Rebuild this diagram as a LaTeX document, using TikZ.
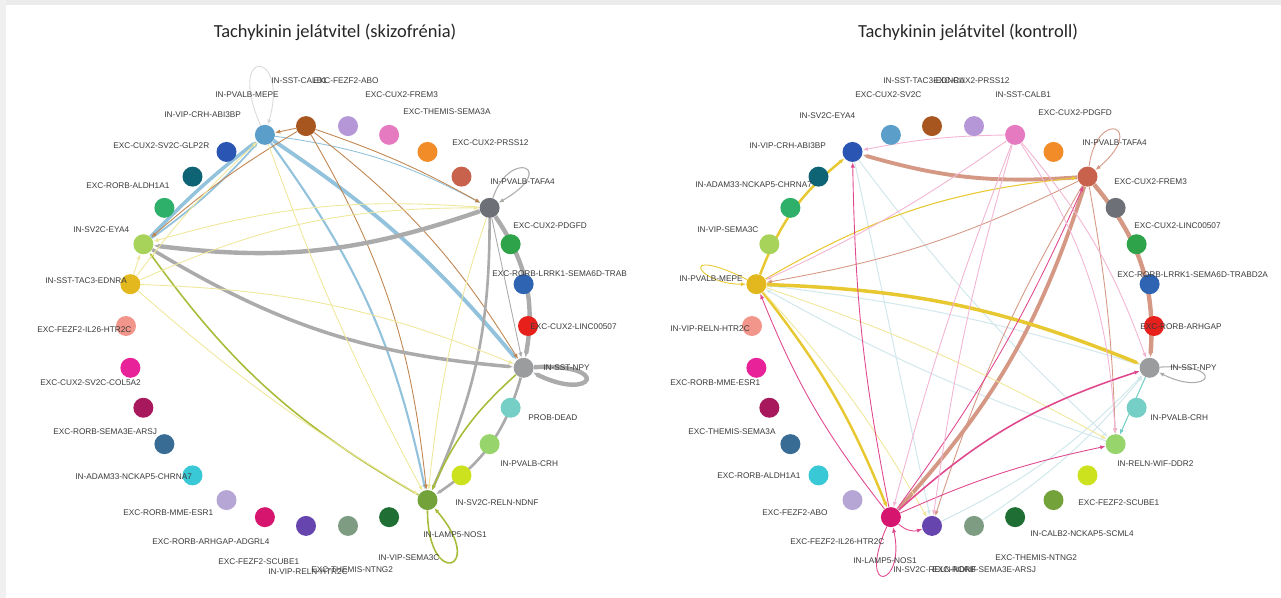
\documentclass[tikz,border=0pt]{standalone}
\usepackage{fontspec}
\usepackage{tikz}
\usetikzlibrary{shapes,arrows.meta,calc,backgrounds}
\newfontfamily\labfont{Liberation Sans}
\newfontfamily\titlefont{Carlito}
% node colours, same order in both graphs
\definecolor{c0}{HTML}{5B9EC9}\definecolor{c1}{HTML}{A8561F}\definecolor{c2}{HTML}{B596D6}
\definecolor{c3}{HTML}{E67AC0}\definecolor{c4}{HTML}{F28C28}\definecolor{c5}{HTML}{C8624C}
\definecolor{c6}{HTML}{6E7078}\definecolor{c7}{HTML}{2EA34A}\definecolor{c8}{HTML}{2F64B2}
\definecolor{c9}{HTML}{E8201C}\definecolor{c10}{HTML}{9A9C9E}\definecolor{c11}{HTML}{76CFC6}
\definecolor{c12}{HTML}{98D46C}\definecolor{c13}{HTML}{CCE21E}\definecolor{c14}{HTML}{74A23A}
\definecolor{c15}{HTML}{1F6E33}\definecolor{c16}{HTML}{7D9C82}\definecolor{c17}{HTML}{6646AE}
\definecolor{c18}{HTML}{D5156E}\definecolor{c19}{HTML}{B6A6D6}\definecolor{c20}{HTML}{38C8D6}
\definecolor{c21}{HTML}{386C94}\definecolor{c22}{HTML}{A8185C}\definecolor{c23}{HTML}{E8239A}
\definecolor{c24}{HTML}{F2968C}\definecolor{c25}{HTML}{E2B81E}\definecolor{c26}{HTML}{A8D35A}
\definecolor{c27}{HTML}{2FB06A}\definecolor{c28}{HTML}{0E6374}\definecolor{c29}{HTML}{2B55B2}
% edge colours
\definecolor{lbE}{HTML}{92C2DC}\definecolor{brE}{HTML}{C0844F}\definecolor{grE}{HTML}{ABABAB}
\definecolor{olE}{HTML}{A9BC3A}\definecolor{yeE}{HTML}{EFE79A}\definecolor{goE}{HTML}{E8C830}
\definecolor{ruE}{HTML}{D49884}\definecolor{maE}{HTML}{E0488E}\definecolor{piE}{HTML}{F2B4D2}
\definecolor{faE}{HTML}{D3E8EC}\definecolor{labgray}{HTML}{3A3A3A}
\tikzstyle{dot} = [circle, inner sep=0pt, minimum size=0.4cm]
\tikzstyle{lab} = [anchor=west, inner sep=0pt, text=labgray, font=\labfont\fontsize{4.7}{5.5}\selectfont]
\tikzstyle{title} = [text=black!85, font=\titlefont\fontsize{10.5}{12}\selectfont]
\tikzstyle{line} = [draw, -{Latex[length=3pt,width=2.4pt]}]
\tikzstyle{blueedge} = [line, draw=lbE]
\tikzstyle{brownedge} = [line, draw=brE, line width=0.5pt]
\tikzstyle{grayedge} = [line, draw=grE]
\tikzstyle{oliveedge} = [line, draw=olE]
\tikzstyle{yellowedge} = [line, draw=yeE, line width=0.5pt]
\tikzstyle{goldedge} = [line, draw=goE]
\tikzstyle{rustedge} = [line, draw=ruE]
\tikzstyle{magedge} = [line, draw=maE, line width=0.5pt]
\tikzstyle{pinkedge} = [line, draw=piE, line width=0.5pt]
\tikzstyle{faintedge} = [line, draw=faE, line width=0.6pt]

\begin{document}
\begin{tikzpicture}[x=0.02cm, y=-0.02cm]
    \useasboundingbox (0,0) rectangle (1281,598);
    \fill[black!8] (0,0) rectangle (1281,5);
    \fill[black!6] (0,0) rectangle (6,598);
    \node[title] (tleft) at (335,32) {Tachykinin jelátvitel (skizofrénia)};
    \node[title] (tright) at (968,32) {Tachykinin jelátvitel (kontroll)};
    % both circles
    \foreach \k in {0,...,29} {
        \node[dot, fill=c\k] (L\k) at ({327+201*cos(108-12*\k)},{326-201*sin(108-12*\k)}) {};
        \node[dot, fill=c\k] (R\k) at ({953+201*cos(108-12*\k)},{326-201*sin(108-12*\k)}) {};
    }
    % labels, left graph
    \foreach \x/\y/\t [count=\i] in {271/81/IN-SST-CALB1, 313/81/EXC-FEZF2-ABO, 215/95/IN-PVALB-MEPE,
        365/95/EXC-CUX2-FREM3, 164/115/IN-VIP-CRH-ABI3BP, 403/112/EXC-THEMIS-SEMA3A,
        113/146/EXC-CUX2-SV2C-GLP2R, 452/143/EXC-CUX2-PRSS12, 86/186/EXC-RORB-ALDH1A1,
        490/182/IN-PVALB-TAFA4, 73/230/IN-SV2C-EYA4, 513/226/EXC-CUX2-PDGFD,
        45/281/IN-SST-TAC3-EDNRA, 492/274/EXC-RORB-LRRK1-SEMA6D-TRAB, 37/330/EXC-FEZF2-IL26-HTR2C,
        530/327/EXC-CUX2-LINC00507, 40/383/EXC-CUX2-SV2C-COL5A2, 543/368/IN-SST-NPY,
        53/432/EXC-RORB-SEMA3E-ARSJ, 528/418/PROB-DEAD, 75/477/IN-ADAM33-NCKAP5-CHRNA7,
        500/464/IN-PVALB-CRH, 123/513/EXC-RORB-MME-ESR1, 455/503/IN-SV2C-RELN-NDNF,
        152/542/EXC-RORB-ARHGAP-ADGRL4, 423/535/IN-LAMP5-NOS1, 218/562/EXC-FEZF2-SCUBE1,
        378/558/IN-VIP-SEMA3C, 268/572/IN-VIP-RELN-HTR2C, 311/570/EXC-THEMIS-NTNG2}
        \node[lab] (la\i) at (\x,\y) {\t};
    % labels, right graph
    \foreach \x/\y/\t [count=\i] in {883/81/IN-SST-TAC3-EDNRA, 933/81/EXC-CUX2-PRSS12, 855/95/EXC-CUX2-SV2C,
        995/95/IN-SST-CALB1, 799/116/IN-SV2C-EYA4, 1038/113/EXC-CUX2-PDGFD,
        749/146/IN-VIP-CRH-ABI3BP, 1082/143/IN-PVALB-TAFA4, 695/185/IN-ADAM33-NCKAP5-CHRNA7,
        1114/182/EXC-CUX2-FREM3, 697/230/IN-VIP-SEMA3C, 1134/226/EXC-CUX2-LINC00507,
        679/279/IN-PVALB-MEPE, 1117/275/EXC-RORB-LRRK1-SEMA6D-TRABD2A, 670/329/IN-VIP-RELN-HTR2C,
        1140/327/EXC-RORB-ARHGAP, 670/383/EXC-RORB-MME-ESR1, 1170/368/IN-SST-NPY,
        688/432/EXC-THEMIS-SEMA3A, 1150/418/IN-PVALB-CRH, 717/476/EXC-RORB-ALDH1A1,
        1117/464/IN-RELN-WIF-DDR2, 762/513/EXC-FEZF2-ABO, 1078/503/EXC-FEZF2-SCUBE1,
        790/542/EXC-FEZF2-IL26-HTR2C, 1030/534/IN-CALB2-NCKAP5-SCML4, 853/561/IN-LAMP5-NOS1,
        995/558/EXC-THEMIS-NTNG2, 893/570/IN-SV2C-RELN-NDNF, 932/570/EXC-RORB-SEMA3E-ARSJ}
        \node[lab] (ra\i) at (\x,\y) {\t};

    \begin{scope}[on background layer]
        % skizofrenia
        \path[blueedge, draw=black!15, line width=0.5pt] (L0) .. controls +(-40,-90) and +(25,-85) .. (L0);
        \path[blueedge, line width=2.2pt] (L0) to[bend left=8] (L10);
        \path[blueedge, line width=1.2pt] (L0) to[bend left=12] (L14);
        \path[blueedge, line width=2pt] (L26) to[bend left=4] (L0);
        \path[blueedge, line width=1pt] (L26) to[bend right=6] (L0);
        \path[blueedge, line width=0.5pt] (L0) to[bend left=10] (L6);
        \path[brownedge] (L1) to[bend right=5] (L26);
        \path[brownedge] (L1) to[bend left=10] (L10);
        \path[brownedge] (L1) to[bend left=12] (L14);
        \path[brownedge] (L1) to[bend left=5] (L6);
        \path[brownedge] (L1) to (L0);
        \path[grayedge, line width=2.5pt] (L6) to[bend left=13] (L26);
        \path[grayedge, line width=2.5pt] (L6) to[bend left=22] (L10);
        \path[grayedge, line width=1.5pt] (L6) to[bend left=12] (L14);
        \path[grayedge, line width=1.5pt] (L10) to[bend left=20] (L14);
        \path[grayedge, line width=2pt] (L26) to[bend right=13] (L10);
        \path[grayedge, line width=0.5pt] (L6) to (L10);
        \path[grayedge, line width=0.6pt] (L6) .. controls +(20,-60) and +(70,-40) .. (L6);
        \path[grayedge, line width=2.5pt] (L10) .. controls +(90,-5) and +(70,35) .. (L10);
        \path[oliveedge, line width=0.9pt] (L14) to[bend left=12] (L26);
        \path[oliveedge, line width=0.9pt] (L10) to[bend right=12] (L14);
        \path[oliveedge, line width=0.9pt] (L14) .. controls +(0,90) and +(60,70) .. (L14);
        \path[yellowedge] (L25) to (L26);
        \path[yellowedge] (L25) to[bend left=12] (L6);
        \path[yellowedge] (L25) to[bend left=10] (L10);
        \path[yellowedge] (L25) to[bend right=5] (L14);
        \path[yellowedge] (L6) to[bend right=6] (L14);
        \path[yellowedge] (L6) to[bend right=10] (L26);
        \path[yellowedge] (L25) to[bend left=5] (L0);
        \path[yellowedge] (L0) to[bend right=4] (L14);
        % kontroll
        \path[faintedge] (R29) to[bend right=5] (R12);
        \path[faintedge] (R29) to (R17);
        \path[faintedge] (R10) to[bend right=5] (R25);
        \path[faintedge] (R17) to[bend right=10] (R10);
        \path[faintedge] (R12) to[bend left=5] (R25);
        \path[faintedge] (R16) to[bend right=8] (R10);
        \path[rustedge, line width=2.2pt] (R5) to[bend left=10] (R29);
        \path[rustedge, line width=2.2pt] (R5) to[bend left=12] (R18);
        \path[rustedge, line width=2.5pt] (R5) to[bend left=22] (R10);
        \path[rustedge, line width=0.5pt] (R5) to[bend left=4] (R12);
        \path[rustedge, line width=0.5pt] (R5) to[bend right=6] (R17);
        \path[rustedge, line width=0.5pt] (R5) to[bend left=8] (R25);
        \path[rustedge, line width=0.5pt] (R5) .. controls +(10,-70) and +(60,-50) .. (R5);
        \path[goldedge, line width=0.6pt] (R25) to[bend left=12] (R5);
        \path[goldedge, line width=2pt] (R25) to[bend left=10] (R10);
        \path[goldedge, line width=1.4pt] (R25) to[bend left=8] (R18);
        \path[goldedge, line width=1.4pt] (R25) to[bend left=15] (R29);
        \path[yellowedge] (R25) to[bend left=5] (R12);
        \path[yellowedge] (R25) to[bend left=6] (R17);
        \path[goldedge, line width=0.5pt] (R25) .. controls +(-80,-40) and +(-60,0) .. (R25);
        \path[magedge] (R18) to[bend left=5] (R29);
        \path[magedge] (R18) to[bend left=8] (R25);
        \path[magedge, line width=0.9pt] (R18) to[bend left=12] (R10);
        \path[magedge] (R18) to[bend left=6] (R12);
        \path[magedge] (R18) to[bend right=6] (R5);
        \path[magedge] (R18) to[bend right=30] (R17);
        \path[magedge] (R18) .. controls +(-35,80) and +(15,70) .. (R18);
        \path[pinkedge] (R3) to[bend right=3] (R18);
        \path[pinkedge] (R3) to[bend right=4] (R17);
        \path[pinkedge] (R3) to[bend left=15] (R12);
        \path[pinkedge] (R3) to[bend right=5] (R29);
        \path[pinkedge] (R3) to[bend left=10] (R10);
        \path[pinkedge] (R3) to[bend left=5] (R25);
        \path[faintedge, draw=c11] (R10) to (R12);
        \path[grayedge, line width=0.6pt] (R10) .. controls +(80,-5) and +(60,30) .. (R10);
    \end{scope}
\end{tikzpicture}
\end{document}
